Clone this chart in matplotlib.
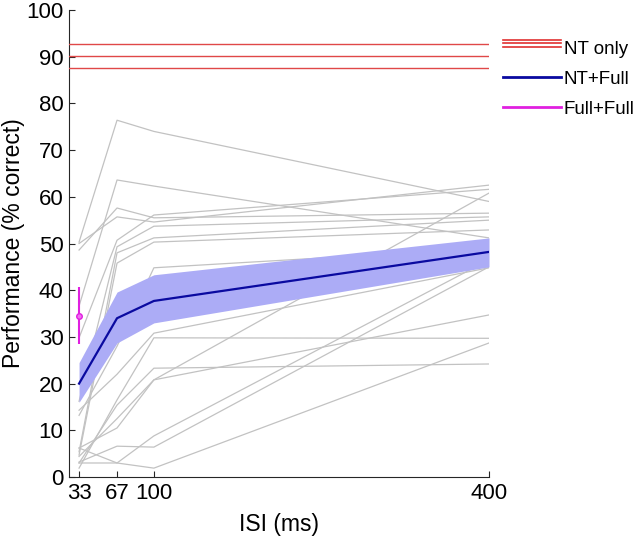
import matplotlib
matplotlib.use("Agg")
import matplotlib.pyplot as plt
from matplotlib.lines import Line2D
from matplotlib.legend_handler import HandlerBase
import numpy as np

plt.rcParams['font.family'] = ['Liberation Sans', 'DejaVu Sans']

isi = [33, 67, 100, 400]

# individual subjects, NT+Full, % correct at each ISI
subjects = [
    [50.3, 76.4, 74.0, 59.0],
    [36.6, 63.6, 62.3, 51.2],
    [48.6, 57.6, 55.5, 56.5],
    [50.0, 55.7, 54.6, 62.5],
    [29.8, 50.7, 56.1, 61.6],
    [16.2, 49.3, 53.7, 55.7],
    [5.4, 48.0, 51.2, 55.0],
    [4.7, 45.8, 50.3, 52.9],
    [13.2, 28.0, 44.8, 49.0],
    [14.3, 22.0, 30.8, 44.8],
    [1.9, 16.5, 29.8, 29.7],
    [3.0, 15.4, 23.3, 24.2],
    [6.2, 10.5, 20.8, 60.8],
    [4.4, 12.5, 20.8, 34.7],
    [3.0, 3.0, 8.8, 46.5],
    [3.2, 6.6, 6.4, 45.0],
    [6.2, 3.0, 1.9, 28.7],
]

mean_nt_full = [20.0, 34.0, 37.7, 48.2]
band_low = [16.0, 28.7, 33.0, 45.0]
band_high = [24.5, 39.6, 43.3, 51.2]

nt_only = [92.8, 90.2, 87.5]

full_full_mean = 34.5
full_full_low = 28.5
full_full_high = 40.7

fig = plt.figure(figsize=(6.33, 5.36), dpi=100)
ax = fig.add_axes([69/633, 1-477/536, 420/633, 467/536])

for s in subjects:
    ax.plot(isi, s, color=(0.76, 0.76, 0.76), lw=0.9, zorder=1)

ax.fill_between(isi, band_low, band_high, color='#acacf6', lw=0, zorder=2)
ax.plot(isi, mean_nt_full, color='#0a0aa0', lw=1.6, zorder=3)

for v in nt_only:
    ax.axhline(v, color='#e04848', lw=1.0, zorder=3)

ax.errorbar([isi[0]], [full_full_mean],
            yerr=[[full_full_mean-full_full_low], [full_full_high-full_full_mean]],
            color='#e020e0', lw=1.5, capsize=0, marker='o', markersize=4,
            mfc='#f070f0', mec='#e020e0', zorder=4)

ax.set_xlim(24, 400)
ax.set_ylim(0, 100)
ax.set_xticks(isi)
ax.set_yticks(range(0, 101, 10))
ax.tick_params(direction='in', length=4, labelsize=16, width=0.8, colors='#262626',
               pad=4)
ax.tick_params(labelcolor='black')
for sp in ['top', 'right']:
    ax.spines[sp].set_visible(False)
for sp in ['left', 'bottom']:
    ax.spines[sp].set_color('#262626')
    ax.spines[sp].set_linewidth(0.8)
ax.set_xlabel('ISI (ms)', fontsize=16.5, labelpad=7)
ax.set_ylabel('Performance (% correct)', fontsize=16.5, labelpad=1)


class TripleLine(HandlerBase):
    def create_artists(self, legend, orig_handle, xdescent, ydescent,
                       width, height, fontsize, trans):
        arts = []
        for k in (-1, 0, 1):
            y = height/2 - ydescent + 3.0 + k*2.3
            ln = Line2D([-xdescent, width-xdescent], [y, y],
                        color=orig_handle.get_color(), lw=1.2, transform=trans)
            arts.append(ln)
        return arts


class RedTriple(Line2D):
    pass


h_nt = RedTriple([], [], color='#e03030')
h_blue = Line2D([], [], color='#0a0aa0', lw=2.0)
h_mag = Line2D([], [], color='#e020e0', lw=2.0)
fig.legend([h_nt, h_blue, h_mag], ['NT only', 'NT+Full', 'Full+Full'],
           handler_map={RedTriple: TripleLine()},
           loc='upper left', bbox_to_anchor=(503/633, 1-41/536),
           frameon=False, fontsize=13.5, handlelength=3.1, handletextpad=0.15,
           labelspacing=0.68, borderpad=0, borderaxespad=0)

fig.savefig('out.png', dpi=100)
